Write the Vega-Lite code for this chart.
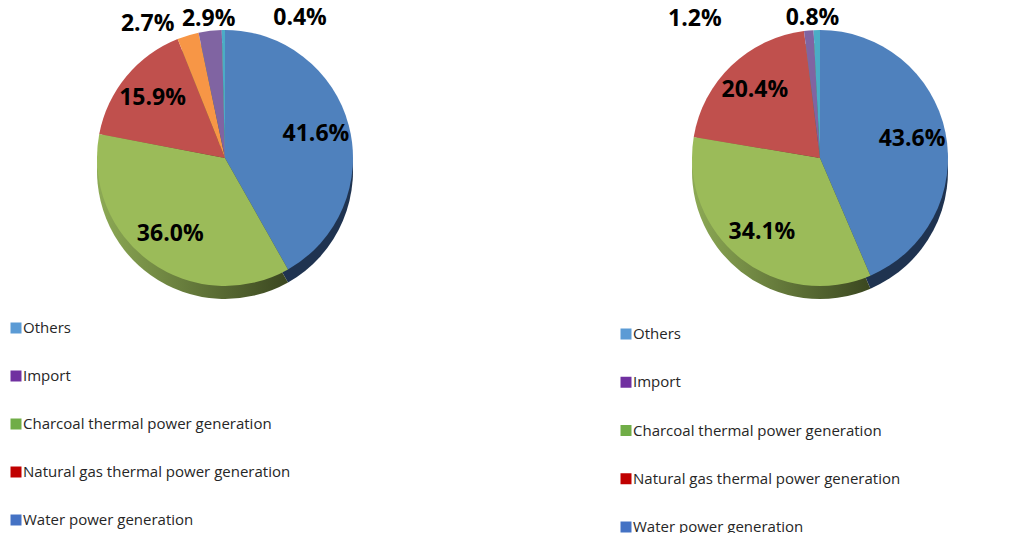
{
  "$schema": "https://vega.github.io/schema/vega-lite/v6.json",
  "background": "white",
  "padding": 0,
  "config": {"view": {"stroke": null}, "font": "Open Sans"},
  "datasets": {
    "left": [
      {"category": "Water power generation", "share": 0.416, "rank": 1},
      {"category": "Charcoal thermal power generation", "share": 0.360, "rank": 2},
      {"category": "Natural gas thermal power generation", "share": 0.159, "rank": 3},
      {"category": "Oil thermal power generation", "share": 0.027, "rank": 4},
      {"category": "Import", "share": 0.029, "rank": 5},
      {"category": "Others", "share": 0.004, "rank": 6}
    ],
    "right": [
      {"category": "Water power generation", "share": 0.436, "rank": 1},
      {"category": "Charcoal thermal power generation", "share": 0.341, "rank": 2},
      {"category": "Natural gas thermal power generation", "share": 0.204, "rank": 3},
      {"category": "Import", "share": 0.012, "rank": 5},
      {"category": "Others", "share": 0.008, "rank": 6}
    ],
    "legend": [
      {"category": "Others"},
      {"category": "Import"},
      {"category": "Charcoal thermal power generation"},
      {"category": "Natural gas thermal power generation"},
      {"category": "Water power generation"}
    ]
  },
  "spacing": 145,
  "resolve": {"scale": {"color": "independent", "theta": "independent", "x": "independent", "y": "independent"}},
  "hconcat": [
    {
      "spacing": 5,
      "resolve": {"scale": {"color": "independent", "theta": "independent", "x": "independent", "y": "independent"}},
      "vconcat": [
        {
          "width": 450,
          "height": 316,
          "data": {"name": "left"},
          "encoding": {
            "theta": {"field": "share", "type": "quantitative", "stack": true},
            "order": {"field": "rank", "type": "quantitative"}
          },
          "layer": [
            {
              "mark": {"type": "arc", "radius": 128, "yOffset": 13},
              "encoding": {
                "color": {
                  "condition": {"test": "datum.category === 'Water power generation'", "value": "#1F3350"},
                  "value": {"gradient": "linear", "x1": 0, "x2": 1, "y1": 0, "y2": 0, "stops": [{"offset": 0, "color": "#8DAA55"}, {"offset": 1, "color": "#3B4720"}]}
                }
              }
            },
            {
              "mark": {"type": "arc", "radius": 128},
              "encoding": {
                "color": {
                  "field": "category", "type": "nominal", "legend": null,
                  "scale": {
                    "domain": ["Water power generation", "Charcoal thermal power generation", "Natural gas thermal power generation", "Oil thermal power generation", "Import", "Others"],
                    "range": ["#4F81BD", "#9BBB59", "#C0504D", "#F79646", "#8064A2", "#4BACC6"]
                  }
                }
              }
            },
            {
              "mark": {"type": "text", "radius": 94, "fontSize": 23, "fontWeight": "bold", "color": "black", "baseline": "middle"},
              "encoding": {"text": {"condition": {"test": "datum.share > 0.05", "field": "share", "type": "quantitative", "format": ".1%"}, "value": ""}}
            },
            {
              "mark": {"type": "text", "radius": 140, "fontSize": 23, "fontWeight": "bold", "color": "black", "baseline": "middle", "align": "right", "dx": -10},
              "encoding": {"text": {"condition": {"test": "datum.category === 'Oil thermal power generation'", "field": "share", "type": "quantitative", "format": ".1%"}, "value": ""}}
            },
            {
              "mark": {"type": "text", "radius": 140, "fontSize": 23, "fontWeight": "bold", "color": "black", "baseline": "middle", "align": "center"},
              "encoding": {"text": {"condition": {"test": "datum.category === 'Import'", "field": "share", "type": "quantitative", "format": ".1%"}, "value": ""}}
            },
            {
              "mark": {"type": "text", "radius": 140, "fontSize": 23, "fontWeight": "bold", "color": "black", "baseline": "middle", "align": "left", "dx": 50},
              "encoding": {"text": {"condition": {"test": "datum.category === 'Others'", "field": "share", "type": "quantitative", "format": ".1%"}, "value": ""}}
            }
          ]
        },
        {
          "width": 450,
          "height": 192,
          "data": {"name": "legend"},
          "encoding": {"y": {"field": "category", "type": "nominal", "sort": null, "axis": null, "scale": {"type": "point", "padding": 0}}},
          "layer": [
            {
              "mark": {"type": "point", "shape": "square", "filled": true, "size": 121, "opacity": 1},
              "encoding": {
                "x": {"datum": 16, "type": "quantitative", "scale": {"domain": [0, 450], "nice": false}, "axis": null},
                "color": {
                  "field": "category", "type": "nominal", "legend": null,
                  "scale": {
                    "domain": ["Others", "Import", "Charcoal thermal power generation", "Natural gas thermal power generation", "Water power generation"],
                    "range": ["#5B9BD5", "#7030A0", "#70AD47", "#C00000", "#4472C4"]
                  }
                }
              }
            },
            {
              "mark": {"type": "text", "align": "left", "baseline": "middle", "fontSize": 15, "color": "#262626"},
              "encoding": {
                "x": {"datum": 23, "type": "quantitative", "scale": {"domain": [0, 450], "nice": false}, "axis": null},
                "text": {"field": "category"}
              }
            }
          ]
        }
      ]
    },
    {
      "spacing": 11,
      "resolve": {"scale": {"color": "independent", "theta": "independent", "x": "independent", "y": "independent"}},
      "vconcat": [
        {
          "width": 450,
          "height": 316,
          "data": {"name": "right"},
          "encoding": {
            "theta": {"field": "share", "type": "quantitative", "stack": true},
            "order": {"field": "rank", "type": "quantitative"}
          },
          "layer": [
            {
              "mark": {"type": "arc", "radius": 128, "yOffset": 13},
              "encoding": {
                "color": {
                  "condition": {"test": "datum.category === 'Water power generation'", "value": "#1F3350"},
                  "value": {"gradient": "linear", "x1": 0, "x2": 1, "y1": 0, "y2": 0, "stops": [{"offset": 0, "color": "#8DAA55"}, {"offset": 1, "color": "#3B4720"}]}
                }
              }
            },
            {
              "mark": {"type": "arc", "radius": 128},
              "encoding": {
                "color": {
                  "field": "category", "type": "nominal", "legend": null,
                  "scale": {
                    "domain": ["Water power generation", "Charcoal thermal power generation", "Natural gas thermal power generation", "Import", "Others"],
                    "range": ["#4F81BD", "#9BBB59", "#C0504D", "#8064A2", "#4BACC6"]
                  }
                }
              }
            },
            {
              "mark": {"type": "text", "radius": 94, "fontSize": 23, "fontWeight": "bold", "color": "black", "baseline": "middle"},
              "encoding": {"text": {"condition": {"test": "datum.share > 0.05", "field": "share", "type": "quantitative", "format": ".1%"}, "value": ""}}
            },
            {
              "mark": {"type": "text", "radius": 140, "fontSize": 23, "fontWeight": "bold", "color": "black", "baseline": "middle", "align": "right", "dx": -86},
              "encoding": {"text": {"condition": {"test": "datum.category === 'Import'", "field": "share", "type": "quantitative", "format": ".1%"}, "value": ""}}
            },
            {
              "mark": {"type": "text", "radius": 140, "fontSize": 23, "fontWeight": "bold", "color": "black", "baseline": "middle", "align": "center", "dx": -4},
              "encoding": {"text": {"condition": {"test": "datum.category === 'Others'", "field": "share", "type": "quantitative", "format": ".1%"}, "value": ""}}
            }
          ]
        },
        {
          "width": 450,
          "height": 193,
          "data": {"name": "legend"},
          "encoding": {"y": {"field": "category", "type": "nominal", "sort": null, "axis": null, "scale": {"type": "point", "padding": 0}}},
          "layer": [
            {
              "mark": {"type": "point", "shape": "square", "filled": true, "size": 121, "opacity": 1},
              "encoding": {
                "x": {"datum": 31, "type": "quantitative", "scale": {"domain": [0, 450], "nice": false}, "axis": null},
                "color": {
                  "field": "category", "type": "nominal", "legend": null,
                  "scale": {
                    "domain": ["Others", "Import", "Charcoal thermal power generation", "Natural gas thermal power generation", "Water power generation"],
                    "range": ["#5B9BD5", "#7030A0", "#70AD47", "#C00000", "#4472C4"]
                  }
                }
              }
            },
            {
              "mark": {"type": "text", "align": "left", "baseline": "middle", "fontSize": 15, "color": "#262626"},
              "encoding": {
                "x": {"datum": 38, "type": "quantitative", "scale": {"domain": [0, 450], "nice": false}, "axis": null},
                "text": {"field": "category"}
              }
            }
          ]
        }
      ]
    }
  ]
}
